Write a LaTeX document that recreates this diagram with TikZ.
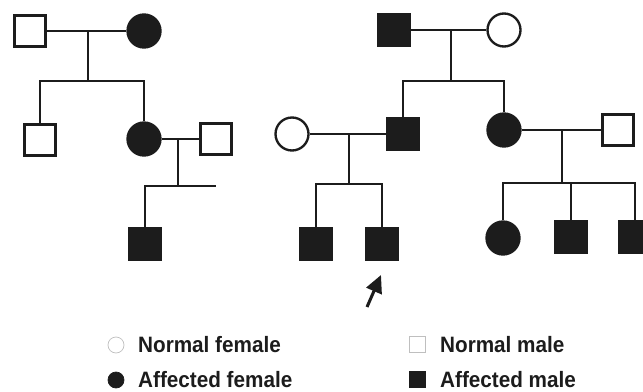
\documentclass[tikz,border=0pt]{standalone}
\usepackage{fontspec}
\setmainfont{Liberation Sans}
\newfontfamily\keyfont[FakeStretch=0.93]{Liberation Sans}
\usetikzlibrary{arrows.meta}
\definecolor{ink}{RGB}{28,28,28}
\begin{document}
\begin{tikzpicture}[x=0.03cm, y=-0.03cm,
    line width=2pt, draw=ink,
    male/.style={draw=ink, rectangle, inner sep=0pt, minimum size=31*0.03cm},
    female/.style={draw=ink, circle, inner sep=0pt, minimum size=33*0.03cm},
    sick/.style={fill=ink},
    key/.style={line width=0.6pt, inner sep=0pt, minimum size=16*0.03cm},
    label/.style={anchor=base west, inner sep=0pt, text=ink, font=\keyfont\fontsize{19pt}{22pt}\selectfont\bfseries}]
    \useasboundingbox (0,0) rectangle (643,392);
    \node[male] (m1) at (30,31) {};
    \node[female, sick] (f1) at (144,31) {};
    \node[male] (c1) at (40,140) {};
    \node[female, sick] (c2) at (144,139) {};
    \node[male] (s2) at (216,139) {};
    \node[male, sick] (g1) at (145,244) {};
    \node[male, sick] (m2) at (394,30) {};
    \node[female] (f2) at (504,30) {};
    \node[female] (w3) at (292,134) {};
    \node[male, sick] (c3) at (403,134) {};
    \node[female, sick] (c4) at (504,130) {};
    \node[male] (s4) at (618,130) {};
    \node[male, sick] (g2) at (316,244) {};
    \node[male, sick] (g3) at (382,244) {};
    \node[female, sick] (g4) at (503,238) {};
    \node[male, sick] (g5) at (571,237) {};
    \node[male, sick] (g6) at (635,237) {};
    \coordinate (j1) at (88,81);
    \coordinate (j2) at (178,186);
    \coordinate (j3) at (451,81);
    \coordinate (j4) at (349,184);
    \coordinate (j5) at (562,183);
    \foreach \a/\b/\j in {m1/f1/j1, c2/s2/j2, m2/f2/j3, w3/c3/j4, c4/s4/j5}
        \draw (\a) -- (\b) (\j |- \a) -- (\j);
    \foreach \a/\b/\j in {c1/c2/j1, c3/c4/j3, g2/g3/j4, g4/g6/j5}
        \draw (\a.north) -- (\a.north |- \j) -- (\b.north |- \j) -- (\b.north);
    \draw (g1.north) -- (g1.north |- j2) -- (s2 |- j2);
    \draw (g5.north) -- (g5.north |- j5);
    \coordinate (tail) at (367,307);
    \coordinate (tip) at (381,275);
    \draw[line width=2.6pt, -{Triangle[length=15pt, width=14pt]}] (tail) -- (tip);
    \node[female, key, draw=black!25] (k1) at (116,345) {};
    \node[female, key, sick] (k2) at (116,380) {};
    \node[male, key, draw=black!25] (k3) at (417,344) {};
    \node[male, key, sick] (k4) at (417,379) {};
    \node[label] (t1) at (137,352) {Normal female};
    \node[label] (t2) at (137,387) {Affected female};
    \node[label] (t3) at (439,352) {Normal male};
    \node[label] (t4) at (439,387) {Affected male};
\end{tikzpicture}
\end{document}
